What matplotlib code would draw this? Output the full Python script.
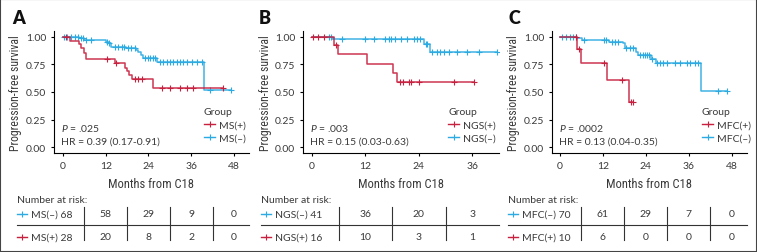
import numpy as np
import matplotlib
matplotlib.use("Agg")
import matplotlib.pyplot as plt
from matplotlib.lines import Line2D
from matplotlib.patches import Rectangle
from matplotlib.transforms import blended_transform_factory

plt.rcParams["font.family"] = ["Lato", "DejaVu Sans"]
plt.rcParams["mathtext.fontset"] = "custom"
plt.rcParams["mathtext.it"] = "Lato:italic"
plt.rcParams["mathtext.rm"] = "Lato"

RED = "#C8203F"
BLUE = "#2CAAE2"
TXT = "#3a3a3a"
NARROW = ["Liberation Sans Narrow", "Roboto Condensed", "DejaVu Sans"]
FS = 7.5

# Panel A: MS
a_neg_t = [0, 4.5, 6.0, 12.0, 12.8, 13.6, 17.8, 20.6, 21.2, 21.8, 22.4, 26.3, 39.6]
a_neg_s = [1.0, 0.985, 0.97, 0.955, 0.94, 0.91, 0.895, 0.878, 0.86, 0.83, 0.81, 0.772, 0.515]
a_neg_c = [0.3, 1.2, 2.2, 3.5, 4.2, 5.0, 5.6, 6.5, 8.0, 12.3, 12.9, 14.6, 15.5, 16.5, 17.2,
           18.2, 19.2, 20.1, 23.0, 23.8, 24.5, 25.2, 25.8, 27.2, 28.2, 29.1, 30.0, 31.0,
           31.9, 32.8, 33.8, 34.7, 36.1, 37.5, 38.9, 41.3, 47.2]
a_pos_t = [0, 2.0, 4.6, 5.2, 5.9, 6.6, 14.6, 17.3, 17.9, 18.5, 19.4, 25.2]
a_pos_s = [1.0, 0.964, 0.929, 0.893, 0.85, 0.80, 0.76, 0.72, 0.69, 0.655, 0.615, 0.538]
a_pos_c = [0.8, 12.3, 15.0, 20.2, 21.2, 22.3, 27.9, 30.0, 32.8, 34.9, 36.6, 44.8]

# Panel B: NGS
b_neg_t = [0, 4.6, 25.2, 26.4]
b_neg_s = [1.0, 0.976, 0.93, 0.857]
b_neg_c = [3.9, 4.3, 6.7, 11.9, 14.0, 16.4, 17.2, 17.8, 18.7, 20.0, 21.3, 23.0, 23.7, 24.3,
           25.5, 25.9, 26.9, 28.1, 28.8, 29.7, 30.7, 32.6, 34.9, 37.4, 41.5]
b_pos_t = [0, 5.0, 5.8, 12.4, 18.1, 19.2]
b_pos_s = [1.0, 0.923, 0.839, 0.755, 0.671, 0.587]
b_pos_c = [0.3, 1.4, 2.7, 5.4, 19.8, 20.5, 21.7, 22.2, 24.0, 32.0, 36.3]

# Panel C: MFC
c_neg_t = [0, 4.9, 6.2, 13.8, 17.7, 18.1, 21.2, 21.7, 25.3, 26.8, 39.5]
c_neg_s = [1.0, 0.986, 0.97, 0.955, 0.94, 0.895, 0.865, 0.835, 0.80, 0.765, 0.505]
c_neg_c = [0.5, 1.7, 2.8, 3.7, 4.6, 6.6, 12.3, 13.0, 14.4, 15.3, 16.3, 18.5, 19.5, 20.4,
           22.3, 23.1, 23.7, 24.4, 24.9, 25.8, 27.0, 27.9, 28.8, 29.8, 32.1, 33.5, 35.4,
           36.3, 37.7, 38.6, 44.2, 46.7]
c_pos_t = [0, 4.9, 5.8, 13.2, 19.3]
c_pos_s = [1.0, 0.889, 0.762, 0.61, 0.406]
c_pos_c = [4.6, 5.4, 12.3, 17.2, 19.8, 20.3]

# numbers at risk
a_risk_t = [0, 12, 24, 36, 48]
a_risk_neg = [68, 58, 29, 9, 0]
a_risk_pos = [28, 20, 8, 2, 0]
b_risk_t = [0, 12, 24, 36]
b_risk_neg = [41, 36, 20, 3]
b_risk_pos = [16, 10, 3, 1]
c_risk_t = [0, 12, 24, 36, 48]
c_risk_neg = [70, 61, 29, 7, 0]
c_risk_pos = [10, 6, 0, 0, 0]

panels = [
    dict(letter="A", grp="MS", p="P = .025", hr="HR = 0.39 (0.17-0.91)",
         neg=(a_neg_t, a_neg_s, a_neg_c), pos=(a_pos_t, a_pos_s, a_pos_c),
         risk_t=a_risk_t, risk_neg=a_risk_neg, risk_pos=a_risk_pos,
         left=54, right=249, xlim=(-2.5, 52.2), lx=12, tab_l=17, leg_x=204),
    dict(letter="B", grp="NGS", p="P = .003", hr="HR = 0.15 (0.03-0.63)",
         neg=(b_neg_t, b_neg_s, b_neg_c), pos=(b_pos_t, b_pos_s, b_pos_c),
         risk_t=b_risk_t, risk_neg=b_risk_neg, risk_pos=b_risk_pos,
         left=303, right=499, xlim=(-2.0, 42.0), lx=259, tab_l=261, leg_x=448),
    dict(letter="C", grp="MFC", p="P = .0002", hr="HR = 0.13 (0.04-0.35)",
         neg=(c_neg_t, c_neg_s, c_neg_c), pos=(c_pos_t, c_pos_s, c_pos_c),
         risk_t=c_risk_t, risk_neg=c_risk_neg, risk_pos=c_risk_pos,
         left=552, right=747, xlim=(-2.2, 52.2), lx=508, tab_l=508, leg_x=702),
]

W, H = 757, 253
fig = plt.figure(figsize=(W / 100, H / 100), dpi=100)


def fy(y):
    return 1 - y / H


def fx(x):
    return x / W


def km(ax, t, s, c, color):
    t_end = max(max(c), t[-1])
    xs = list(t) + [t_end]
    ys = list(s) + [s[-1]]
    ax.plot(xs, ys, drawstyle="steps-post", color=color, lw=1.1, alpha=0.9)
    idx = np.searchsorted(np.array(t), np.array(c), side="right") - 1
    cy = np.array(s)[idx]
    ax.plot(c, cy, ls="none", marker="+", ms=4, mew=0.8, color=color)


for p in panels:
    top, bot = 32, 154
    ax = fig.add_axes([fx(p["left"]), fy(bot), fx(p["right"] - p["left"]), (bot - top) / H])
    km(ax, *p["neg"], BLUE)
    km(ax, *p["pos"], RED)
    ax.set_xlim(*p["xlim"])
    ax.set_ylim(-0.05, 1.05)
    ax.set_xticks(p["risk_t"])
    ax.set_yticks([0, 0.25, 0.5, 0.75, 1.0])
    ax.set_yticklabels(["0.00", "0.25", "0.50", "0.75", "1.00"])
    for side in ["top", "right"]:
        ax.spines[side].set_visible(False)
    for side in ["left", "bottom"]:
        ax.spines[side].set_linewidth(0.8)
    ax.tick_params(length=2.5, width=0.8, labelsize=FS, labelcolor=TXT, pad=3)

    # axis titles
    fig.text(fx(p["left"] - 38), fy(93), "Progression-free survival", rotation=90,
             ha="center", va="center", fontsize=8.5, color=TXT, family=NARROW)
    ax.text(0.5, fy(184), "Months from C18", transform=blended_transform_factory(ax.transAxes, fig.transFigure),
            ha="center", va="center", fontsize=9, color=TXT, family=NARROW)

    # panel letter
    fig.text(fx(p["lx"]), fy(18), p["letter"], ha="left", va="center",
             fontsize=13, fontweight="heavy", color="#111")

    # stats
    pv = p["p"].replace("P", r"$\it{P}$", 1)
    ax.text(fx(7) / fx(p["right"] - p["left"]), (154 - 128) / 122, pv, transform=ax.transAxes,
            ha="left", va="center", fontsize=FS, color=TXT)
    ax.text(fx(7) / fx(p["right"] - p["left"]), (154 - 142) / 122, p["hr"], transform=ax.transAxes,
            ha="left", va="center", fontsize=FS, color=TXT)

    # legend
    handles = [Line2D([], [], color=RED, marker="+", ms=4, mew=0.8, lw=1.0),
               Line2D([], [], color=BLUE, marker="+", ms=4, mew=0.8, lw=1.0)]
    leg = ax.legend(handles, [p["grp"] + "(+)", p["grp"] + "(\u2013)"], title="Group",
                    loc="upper left", bbox_to_anchor=(fx(p["leg_x"]), fy(108)),
                    bbox_transform=fig.transFigure, frameon=False, borderpad=0,
                    handlelength=1.1, handletextpad=0.35, labelspacing=0.4,
                    fontsize=FS, title_fontsize=FS, alignment="left", borderaxespad=0)
    leg.get_title().set_color(TXT)
    for tx in leg.get_texts():
        tx.set_color(TXT)

    # risk table
    tr = blended_transform_factory(ax.transData, fig.transFigure)
    fig.text(fx(p["tab_l"]), fy(201), "Number at risk:", ha="left", va="center",
             fontsize=FS, color=TXT)
    rows = [(p["risk_neg"], BLUE, 215), (p["risk_pos"], RED, 238)]
    for vals, col, yy in rows:
        name = p["grp"] + ("(\u2013)" if col == BLUE else "(+)")
        fig.add_artist(Line2D([fx(p["tab_l"]), fx(p["tab_l"] + 10)], [fy(yy), fy(yy)],
                              color=col, lw=1.0))
        fig.add_artist(Line2D([fx(p["tab_l"] + 5)], [fy(yy)], color=col, marker="+",
                              ms=4, mew=0.8, ls="none"))
        fig.text(fx(p["tab_l"] + 14), fy(yy), f"{name} {vals[0]}", ha="left", va="center",
                 fontsize=FS, color=TXT)
        for tt, v in zip(p["risk_t"][1:], vals[1:]):
            ax.text(tt, fy(yy), str(v), transform=tr, ha="center", va="center",
                    fontsize=FS, color=TXT, clip_on=False)
    fig.add_artist(Line2D([fx(p["tab_l"]), fx(p["right"])], [fy(225.5), fy(225.5)],
                          color="#333", lw=0.8))
    for i in range(len(p["risk_t"]) - 1):
        mid = (p["risk_t"][i] + p["risk_t"][i + 1]) / 2
        ax.add_artist(Line2D([mid, mid], [fy(208), fy(241)], transform=tr, color="#333",
                             lw=0.8, clip_on=False))

fig.add_artist(Rectangle((0, 0), 1, 1, transform=fig.transFigure, fill=False,
                         edgecolor="#444", lw=1.5))

fig.savefig("out.png", dpi=100)
